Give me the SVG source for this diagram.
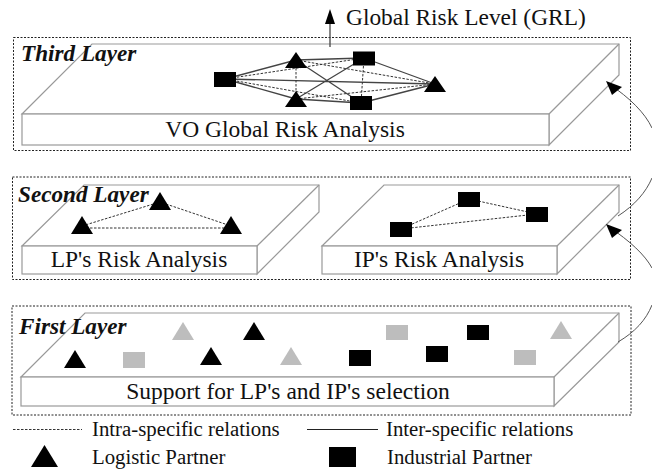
<svg xmlns="http://www.w3.org/2000/svg" width="652" height="470" viewBox="0 0 652 470">
<style>
text{font-family:"Liberation Serif","Times New Roman",serif;fill:#111}
.lab{font-size:23.500px;text-anchor:middle}
.leg{font-size:20.800px}
.ttl{font-size:23.200px;font-weight:bold;font-style:italic}
.frame{fill:none;stroke:#222;stroke-width:1;stroke-dasharray:2 1.5}
.box{fill:#fff;stroke:#999;stroke-width:1.2}
.inter{fill:none;stroke:#444;stroke-width:1.3}
.intra{fill:none;stroke:#333;stroke-width:1;stroke-dasharray:2.5 1.5}
.arc{fill:none;stroke:#555;stroke-width:1}
.k{fill:#000}
.g{fill:#bdbdbd}
</style>
<defs>
<path id="t" d="M-11 9L11 9L0 -9Z"/>
<path id="s" d="M-11 8L11 8L0 -8Z"/>
</defs>
<g id="third-layer">
<rect class="frame" x="13.500" y="37.500" width="617" height="113"/>
<path class="box" d="M22 114L92 44H619V75L549 145V114Z"/>
<rect class="box" x="22" y="114" width="527" height="31"/>
<path class="box" d="M549 114L619 44" fill="none"/>
<text class="ttl" x="21" y="61">Third Layer</text>
<text class="lab" x="285" y="137">VO Global Risk Analysis</text>
</g>
<g id="second-layer">
<rect class="frame" x="12.500" y="177" width="618" height="102.500"/>
<path class="box" d="M22 246L84 185H319V212L257 274V246Z"/>
<rect class="box" x="22" y="246" width="235" height="28"/>
<path class="box" d="M257 246L319 185" fill="none"/>
<path class="box" d="M322 246L384 185H619V212L557 274V246Z"/>
<rect class="box" x="322" y="246" width="235" height="28"/>
<path class="box" d="M557 246L619 185" fill="none"/>
<text class="ttl" x="18" y="202">Second Layer</text>
<text class="lab" x="139" y="267">LP's Risk Analysis</text>
<text class="lab" x="439" y="267">IP's Risk Analysis</text>
</g>
<g id="first-layer">
<rect class="frame" x="12" y="306" width="619" height="109"/>
<path class="box" d="M21 377L85 313H619V342L554 406V377Z"/>
<rect class="box" x="21" y="377" width="533" height="29"/>
<path class="box" d="M554 377L619 313" fill="none"/>
<text class="ttl" x="19" y="334">First Layer</text>
<text class="lab" x="288" y="399">Support for LP's and IP's selection</text>
</g>
<g id="connectors">
<path d="M330 47V20" stroke="#444" stroke-width="1.300" fill="none"/>
<path d="M330 9L335 24H325Z" fill="#000"/>
<path class="inter" d="M225 79L296 60M296 60L364 58M364 58L435 84M296 60L361 103M225 79L435 84M225 79L296 99M364 58L296 99M296 99L361 103M361 103L435 84"/>
<path class="intra" d="M225 79L364 58M225 79L361 103M296 60L296 99M364 58L361 103M296 60L435 84M296 99L435 84"/>
<path class="intra" d="M82 226L160 202L231 226M82 228H231"/>
<path class="intra" d="M401 229L469 199L537 214L401 229"/>
<path class="arc" d="M609 84C630 98 645 113 652 128"/>
<path class="arc" d="M618 216C635 205 646 192 652 178"/>
<path class="arc" d="M609 227C630 241 645 255 652 268"/>
<path class="arc" d="M618 342C635 332 646 320 652 305"/>
<path d="M606 81L622 87L612 95Z" fill="#000"/>
<path d="M606 224L622 230L612 238Z" fill="#000"/>
<path class="intra" d="M13 429.500H82"/>
<path d="M307 429.500H378" stroke="#222" stroke-width="1" fill="none"/>
</g>
<g id="third-nodes">
<rect id="ip-a" class="k" x="214" y="72" width="22" height="15"/>
<use id="lp-a" class="k" href="#s" x="296" y="60"/>
<rect id="ip-b" class="k" x="353" y="51.500" width="22" height="14"/>
<use id="lp-b" class="k" href="#s" x="435" y="84"/>
<use id="lp-c" class="k" href="#s" x="296" y="99"/>
<rect id="ip-c" class="k" x="350" y="96" width="22" height="14"/>
</g>
<g id="second-nodes">
<use id="lp-d" class="k" href="#t" x="82" y="225"/>
<use id="lp-e" class="k" href="#t" x="160" y="201"/>
<use id="lp-f" class="k" href="#t" x="231" y="225"/>
<rect id="ip-d" class="k" x="390" y="222" width="22" height="15"/>
<rect id="ip-e" class="k" x="458" y="192" width="22" height="15"/>
<rect id="ip-f" class="k" x="526" y="207" width="22" height="15"/>
</g>
<g id="first-nodes">
<use id="c1" class="g" href="#t" x="183" y="331"/>
<use id="c2" class="k" href="#t" x="254" y="331"/>
<use id="c3" class="k" href="#t" x="75" y="359"/>
<rect id="c4" class="g" x="123" y="352" width="22" height="16"/>
<use id="c5" class="k" href="#t" x="211" y="356"/>
<use id="c6" class="g" href="#t" x="291" y="356"/>
<rect id="c7" class="k" x="349" y="350" width="22" height="16"/>
<rect id="c8" class="g" x="386" y="325" width="22" height="15"/>
<rect id="c9" class="k" x="467" y="325" width="22" height="15"/>
<rect id="c10" class="k" x="426" y="346" width="22" height="16"/>
<rect id="c11" class="g" x="514" y="350" width="22" height="15"/>
<use id="c12" class="g" href="#t" x="561" y="330"/>
</g>
<g id="grl"><text x="346" y="25" font-size="23.400">Global Risk Level (GRL)</text></g>
<g id="legend">
<text class="leg" x="92" y="436">Intra-specific relations</text>
<text class="leg" x="386" y="436">Inter-specific relations</text>
<path class="k" d="M31 467H58L44.500 445Z"/>
<text class="leg" x="92" y="464">Logistic Partner</text>
<rect class="k" x="329" y="447" width="27" height="20"/>
<text class="leg" x="387" y="464">Industrial Partner</text>
</g>
</svg>
